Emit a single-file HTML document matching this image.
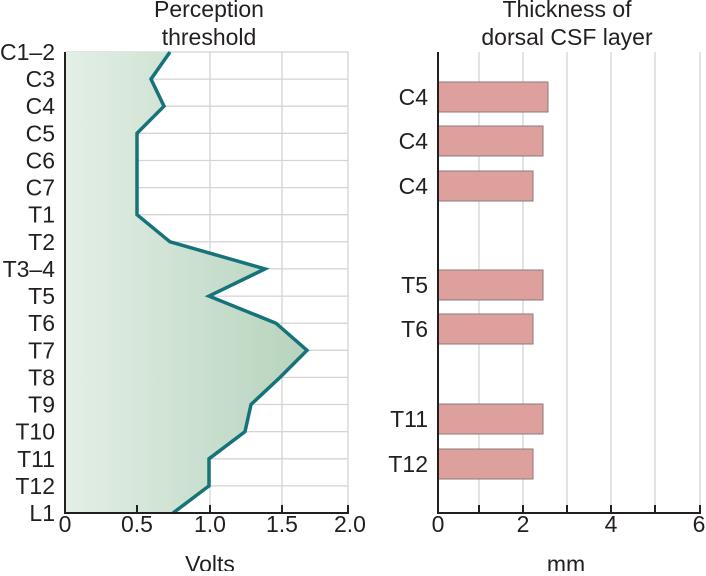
<!DOCTYPE html>
<html><head><meta charset="utf-8"><style>
html,body{margin:0;padding:0;background:#fff;}
svg text{font-family:"Liberation Sans",Arial,sans-serif;fill:#231f20;}
</style></head><body>
<svg width="706" height="571" viewBox="0 0 706 571" xmlns="http://www.w3.org/2000/svg">
<defs><linearGradient id="g" x1="0" x2="1" y1="0" y2="0">
<stop offset="0" stop-color="#e4efe6"/><stop offset="1" stop-color="#b6d3bd"/></linearGradient></defs>
<g stroke="#d4d4d4" stroke-width="1.3">
<line x1="137" y1="52" x2="137" y2="513"/><line x1="210" y1="52" x2="210" y2="513"/><line x1="282" y1="52" x2="282" y2="513"/><line x1="348" y1="52" x2="348" y2="513"/>
<line x1="65" y1="52" x2="348" y2="52"/><line x1="65" y1="79.1" x2="348" y2="79.1"/><line x1="65" y1="106.2" x2="348" y2="106.2"/><line x1="65" y1="133.3" x2="348" y2="133.3"/><line x1="65" y1="160.5" x2="348" y2="160.5"/><line x1="65" y1="187.6" x2="348" y2="187.6"/><line x1="65" y1="214.7" x2="348" y2="214.7"/><line x1="65" y1="241.8" x2="348" y2="241.8"/><line x1="65" y1="268.9" x2="348" y2="268.9"/><line x1="65" y1="296.1" x2="348" y2="296.1"/><line x1="65" y1="323.2" x2="348" y2="323.2"/><line x1="65" y1="350.3" x2="348" y2="350.3"/><line x1="65" y1="377.4" x2="348" y2="377.4"/><line x1="65" y1="404.5" x2="348" y2="404.5"/><line x1="65" y1="431.6" x2="348" y2="431.6"/><line x1="65" y1="458.8" x2="348" y2="458.8"/><line x1="65" y1="485.9" x2="348" y2="485.9"/>
</g>
<polygon fill="url(#g)" points="65,52 170,52 151,79.1 164,106.2 137,133.3 137,160.5 137,187.6 137,214.7 170,241.8 265,268.9 209,296.1 276,323.2 307,350.3 280,377.4 251,404.5 245,431.6 209,458.8 209,485.9 173,513 65,513"/>
<polyline fill="none" stroke="#16737a" stroke-width="3.5" points="170,52 151,79.1 164,106.2 137,133.3 137,160.5 137,187.6 137,214.7 170,241.8 265,268.9 209,296.1 276,323.2 307,350.3 280,377.4 251,404.5 245,431.6 209,458.8 209,485.9 173,513"/>
<g stroke="#231f20" stroke-width="2"><line x1="65" y1="52" x2="65" y2="514"/><line x1="64" y1="513" x2="349" y2="513"/>
<line x1="137" y1="505" x2="137" y2="513"/><line x1="210" y1="505" x2="210" y2="513"/><line x1="282" y1="505" x2="282" y2="513"/><line x1="348" y1="505" x2="348" y2="513"/></g>
<g font-size="23" text-anchor="end">
<text x="55" y="60">C1–2</text><text x="55" y="87.1">C3</text><text x="55" y="114.2">C4</text><text x="55" y="141.3">C5</text><text x="55" y="168.5">C6</text><text x="55" y="195.6">C7</text><text x="55" y="222.7">T1</text><text x="55" y="249.8">T2</text><text x="55" y="276.9">T3–4</text><text x="55" y="304.1">T5</text><text x="55" y="331.2">T6</text><text x="55" y="358.3">T7</text><text x="55" y="385.4">T8</text><text x="55" y="412.5">T9</text><text x="55" y="439.6">T10</text><text x="55" y="466.8">T11</text><text x="55" y="493.9">T12</text><text x="55" y="521">L1</text>
</g>
<g font-size="23" text-anchor="middle">
<text x="65" y="532">0</text><text x="137" y="532">0.5</text><text x="210" y="532">1.0</text><text x="282" y="532">1.5</text><text x="350" y="532">2.0</text>
<text x="210" y="572">Volts</text>
<text x="209" y="17">Perception</text><text x="209" y="45">threshold</text>
<text x="567" y="17">Thickness of</text><text x="567" y="45">dorsal CSF layer</text>
<text x="438" y="532">0</text><text x="523" y="532">2</text><text x="611" y="532">4</text><text x="699" y="532">6</text>
<text x="566" y="572">mm</text>
</g>
<g stroke="#d4d4d4" stroke-width="1.3">
<line x1="479" y1="52" x2="479" y2="513"/><line x1="523" y1="52" x2="523" y2="513"/><line x1="567" y1="52" x2="567" y2="513"/><line x1="611" y1="52" x2="611" y2="513"/><line x1="655" y1="52" x2="655" y2="513"/><line x1="700" y1="52" x2="700" y2="513"/>
</g>
<g fill="#dea09d" stroke="#8a7a7a" stroke-width="1">
<rect x="438" y="82" width="110" height="30"/><rect x="438" y="126" width="105" height="30"/><rect x="438" y="171" width="95" height="30"/>
<rect x="438" y="270" width="105" height="30"/><rect x="438" y="314" width="95" height="30"/>
<rect x="438" y="404" width="105" height="30"/><rect x="438" y="449" width="95" height="30"/>
</g>
<g stroke="#231f20" stroke-width="2"><line x1="438" y1="52" x2="438" y2="514"/><line x1="437" y1="513" x2="701" y2="513"/>
<line x1="479" y1="505" x2="479" y2="513"/><line x1="523" y1="505" x2="523" y2="513"/><line x1="567" y1="505" x2="567" y2="513"/><line x1="611" y1="505" x2="611" y2="513"/><line x1="655" y1="505" x2="655" y2="513"/><line x1="700" y1="505" x2="700" y2="513"/></g>
<g font-size="23" text-anchor="end">
<text x="428" y="105">C4</text><text x="428" y="149">C4</text><text x="428" y="194">C4</text><text x="428" y="293">T5</text><text x="428" y="337">T6</text><text x="428" y="427">T11</text><text x="428" y="472">T12</text>
</g>
</svg>
</body></html>
